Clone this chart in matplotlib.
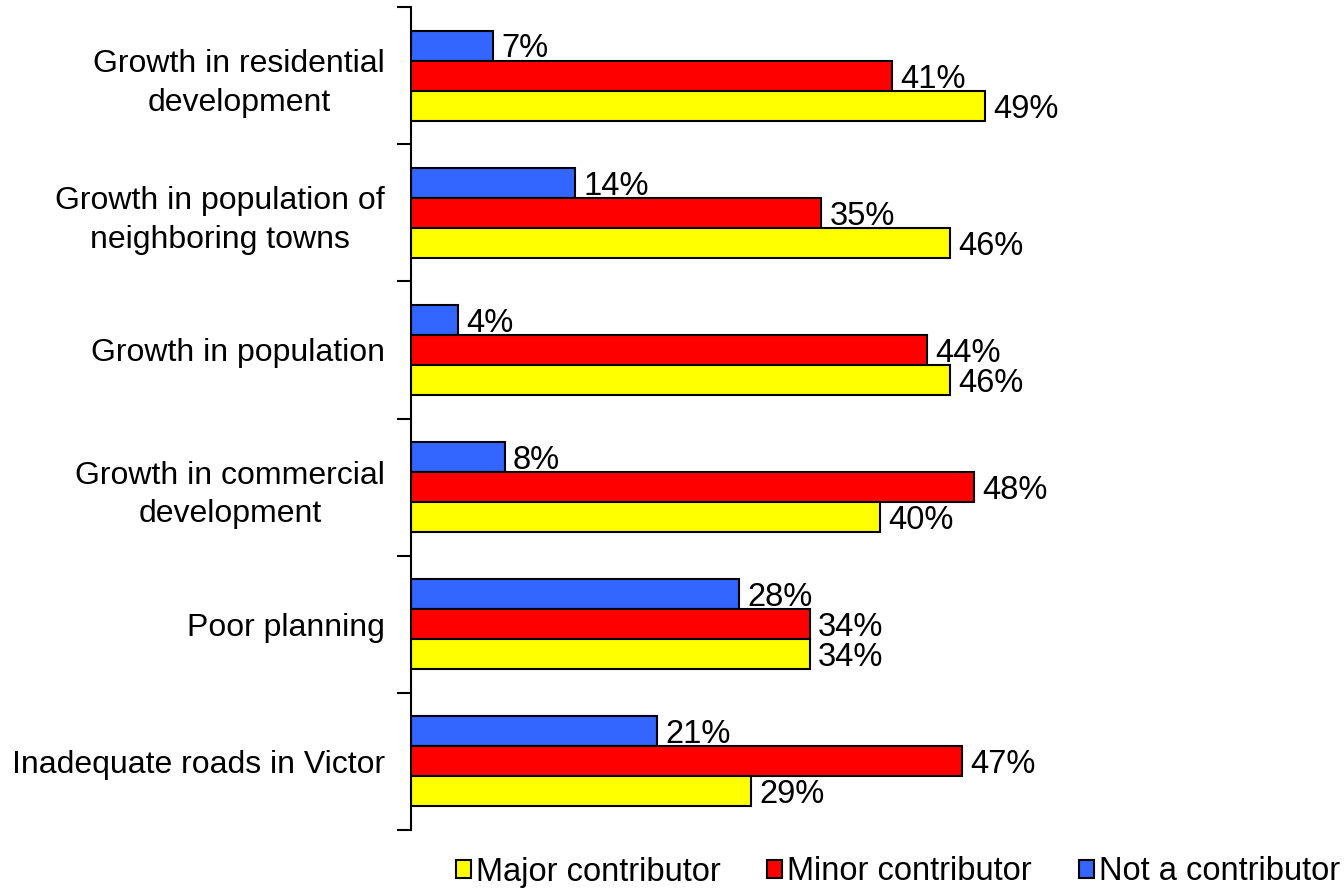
import numpy as np
import matplotlib.pyplot as plt
import matplotlib.patches as mpatches

categories = ["Growth in residential\ndevelopment",
              "Growth in population of\nneighboring towns",
              "Growth in population",
              "Growth in commercial\ndevelopment",
              "Poor planning",
              "Inadequate roads in Victor"]
not_contrib = [7, 14, 4, 8, 28, 21]
minor = [41, 35, 44, 48, 34, 47]
major = [49, 46, 46, 40, 34, 29]

series = [("Not a contributor", not_contrib, '#3366FF'),
          ("Minor contributor", minor, '#FF0000'),
          ("Major contributor", major, '#FFFF00')]

plt.rcParams['font.family'] = ['Liberation Sans', 'DejaVu Sans']

fig = plt.figure(figsize=(13.44, 8.92), dpi=100)
ax = fig.add_axes([411/1344, 1-830/892, 933/1344, 823/892])

y = np.arange(len(categories)) + 0.5
h = 0.219
for k, (name, vals, col) in enumerate(series):
    pos = y + (k - 1) * h
    ax.barh(pos, vals, height=h, color=col, edgecolor='black', linewidth=1.5)
    for p, v in zip(pos, vals):
        ax.text(v + 0.7, p + 0.025, f"{v}%", va='center', ha='left', fontsize=23.5)

ax.set_xlim(0, 79.6)
ax.set_ylim(len(categories), 0)
ax.set_yticks(y)
ax.set_yticklabels(categories, fontsize=23, multialignment='center', linespacing=1.38)
ax.set_yticks(np.arange(len(categories) + 1), minor=True)
ax.tick_params(axis='y', which='major', length=0, pad=18.7)
ax.tick_params(axis='y', which='minor', length=10, width=1.5)
ax.set_xticks([])
for s in ['top', 'right', 'bottom']:
    ax.spines[s].set_visible(False)
ax.spines['left'].set_linewidth(1.5)

handles = [mpatches.Patch(facecolor=c, edgecolor='black', linewidth=1.5, label=n)
           for n, v, c in series[::-1]]
fig.legend(handles=handles, loc='center right', bbox_to_anchor=(1340/1344, 20/892),
           ncol=3, frameon=False, borderpad=0, borderaxespad=0,
           handlelength=0.46, handleheight=0.46,
           handletextpad=0.15, columnspacing=1.44, fontsize=23.5)

fig.savefig('out.png', dpi=100)
